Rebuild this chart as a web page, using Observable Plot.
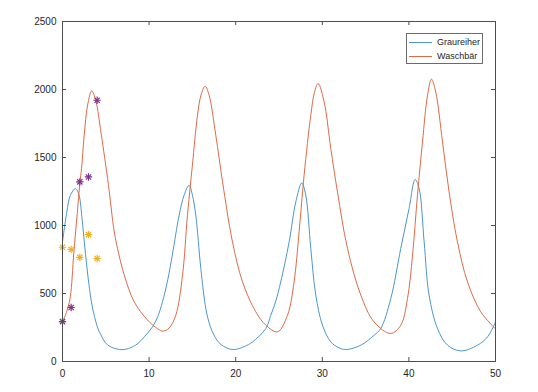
<!DOCTYPE html>
<html><head><meta charset="utf-8">
<script src="https://cdn.jsdelivr.net/npm/d3@7"></script>
<script src="https://cdn.jsdelivr.net/npm/@observablehq/plot@0.6"></script>
<style>
body{margin:0;background:#fff;}
#wrap{position:relative;width:538px;height:392px;font-family:"Liberation Sans",Arial,sans-serif;}
.legend{position:absolute;left:406px;top:33px;width:77px;height:31px;border:1px solid #6b6b6b;background:#fff;font-size:9px;color:#262626;box-sizing:border-box;}
.row{position:absolute;left:0;height:12px;line-height:12px;white-space:nowrap;}
.sw{position:absolute;left:2px;width:23px;height:1px;top:6px;}
.lab{position:absolute;left:30px;top:0;}
</style></head>
<body><div id="wrap"></div>
<script>
// Graureiher (model curve)
const grT = [0,0.5,0.9,1.5,1.9,2.27,2.65,3.04,3.42,4.0,4.4,5.2,6.6,7.6,8.7,9.5,10.4,11.0,11.55,12.15,12.7,13.47,14.04,14.62,15.0,15.39,15.97,16.55,17.0,17.5,18.3,19.63,21.0,21.94,23.48,24.05,24.6,25.2,26.17,26.94,27.63,28.09,28.67,29.25,30.02,30.98,31.8,32.71,34.45,35.98,36.75,37.91,39.06,40.02,40.72,41.18,41.76,42.33,43.3,44.46,46.0,47.92,49.08,50];
const grV = [880,1100,1220,1272,1225,1040,794,573,410,260,200,122,88,95,132,185,255,330,440,600,790,1076,1223,1296,1223,1076,684,390,270,193,125,88,110,144,243,340,438,585,879,1174,1313,1223,831,488,267,144,105,88,120,193,243,463,831,1125,1338,1272,879,488,243,120,78,120,181,290];
// Waschbär (model curve)
const wbT = [0,0.5,0.9,1.3,1.7,2.0,2.2,2.5,2.9,3.38,3.85,4.45,5.3,5.96,6.5,7.11,8.27,9.81,11.0,11.6,12.3,13.08,13.86,14.43,15.0,15.59,16.0,16.47,16.93,17.7,18.48,19.63,20.79,22.32,23.48,24.83,25.98,26.74,27.32,27.9,28.67,29.1,29.52,30.21,30.98,31.75,32.91,34.45,35.98,37.9,39.06,39.84,40.42,40.99,41.57,42.15,42.61,43.1,43.88,44.64,45.61,46.77,48.3,50];
const wbV = [291,370,475,794,1088,1309,1420,1660,1885,1990,1915,1680,1300,960,790,640,440,305,240,223,245,340,635,1076,1443,1811,1960,2024,1958,1664,1321,879,585,365,267,218,340,585,953,1370,1811,1980,2044,1909,1566,1247,831,488,291,206,267,463,782,1223,1615,1958,2076,1982,1615,1247,879,585,365,240];
// observed points
const obsT = [0,1,2,3,4];
const obsWaschbaer = [293,397,1321,1357,1921];
const obsGraureiher = [840,824,766,933,757];
const xTicks = [0,10,20,30,40,50];
const yTicks = [0,500,1000,1500,2000,2500];
const series = ["Graureiher","Waschbär"];
const colors = ["#4a97cb","#dc6b46"];

const gr = grT.map((t,i)=>({t, v:grV[i]}));
const wb = wbT.map((t,i)=>({t, v:wbV[i]}));
const pw = obsT.map((t,i)=>({t, v:obsWaschbaer[i]}));
const pg = obsT.map((t,i)=>({t, v:obsGraureiher[i]}));

const W=538,H=392,mL=62,mR=43,mT=21,mB=31;
const fw=W-mL-mR, fh=H-mT-mB, tl=4;
const axc="#4d4d4d";
const rM=2.5;
const chart = Plot.plot({
  width:W, height:H, marginLeft:mL, marginRight:mR, marginTop:mT, marginBottom:mB,
  style:{fontFamily:"Liberation Sans, Arial, sans-serif", fontSize:"10px", color:"#262626", background:"#fff"},
  x:{domain:[0,50]}, y:{domain:[0,2500]},
  marks:[
    Plot.line(gr,{x:"t",y:"v",stroke:colors[0],strokeWidth:1,curve:"catmull-rom"}),
    Plot.line(wb,{x:"t",y:"v",stroke:colors[1],strokeWidth:1,curve:"catmull-rom"}),
    Plot.dot(pw,{x:"t",y:"v",symbol:"plus",stroke:"#7E2F8E",r:rM,strokeWidth:1.2}),
    Plot.dot(pw,{x:"t",y:"v",symbol:"times",stroke:"#7E2F8E",r:rM,strokeWidth:1.2}),
    Plot.dot(pg,{x:"t",y:"v",symbol:"plus",stroke:"#EDB120",r:rM,strokeWidth:1.2}),
    Plot.dot(pg,{x:"t",y:"v",symbol:"times",stroke:"#EDB120",r:rM,strokeWidth:1.2}),
    Plot.frame({stroke:axc,strokeWidth:1}),
    Plot.tickX(xTicks,{x:d=>d,insetTop:fh-tl,stroke:axc}),
    Plot.tickX(xTicks,{x:d=>d,insetBottom:fh-tl,stroke:axc}),
    Plot.tickY(yTicks,{y:d=>d,insetRight:fw-tl,stroke:axc}),
    Plot.tickY(yTicks,{y:d=>d,insetLeft:fw-tl,stroke:axc}),
    Plot.axisX(xTicks,{tickSize:0,tickPadding:8,tickFormat:d=>String(d),label:null}),
    Plot.axisY(yTicks,{tickSize:0,tickPadding:6,tickFormat:d=>String(d),label:null})
  ]
});
const wrap=document.getElementById("wrap");
wrap.appendChild(chart);
const lg=document.createElement("div");
lg.className="legend";
series.forEach((s,i)=>{
  const r=document.createElement("div");
  r.className="row"; r.style.top=(2+i*14)+"px"; r.style.width="100%";
  const sw=document.createElement("div"); sw.className="sw"; sw.style.background=colors[i];
  const lb=document.createElement("div"); lb.className="lab"; lb.textContent=s;
  r.appendChild(sw); r.appendChild(lb); lg.appendChild(r);
});
wrap.appendChild(lg);
</script></body></html>
